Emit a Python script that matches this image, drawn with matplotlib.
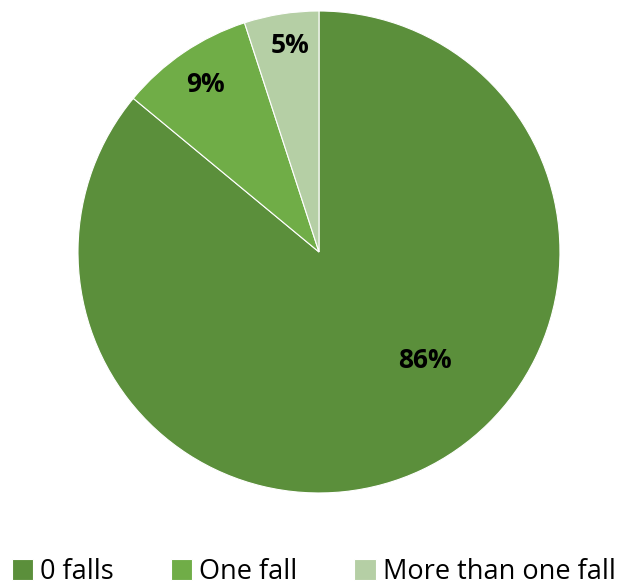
import matplotlib.pyplot as plt

# data
categories = ["0 falls", "One fall", "More than one fall"]
values = [86, 9, 5]
colors = ["#5B8F3B", "#70AD47", "#B5CFA5"]
label_pos = [(0.44, -0.45), (-0.47, 0.695), (-0.12, 0.855)]

plt.rcParams['font.family'] = ['Open Sans', 'DejaVu Sans']

fig = plt.figure(figsize=(6.27, 5.85), dpi=100)
ax = fig.add_axes([0.1244, 0.1573, 0.7687, 0.8239])

wedges, _ = ax.pie(values, colors=colors, startangle=90, counterclock=False,
                   radius=1.0, wedgeprops=dict(edgecolor="white", linewidth=0.8))
for v, (x, y) in zip(values, label_pos):
    ax.text(x, y, f"{v}%", ha="center", va="center", fontsize=19, fontweight="bold")
ax.set_xlim(-1, 1)
ax.set_ylim(-1, 1)
ax.set_aspect("equal")

fig.legend(wedges, categories, loc="lower center", ncol=3, frameon=False,
           fontsize=19.5, handlelength=0.8, handleheight=0.8, handletextpad=0.25,
           columnspacing=2.1, bbox_to_anchor=(0.5, -0.043))

fig.savefig("out.png", dpi=100)
